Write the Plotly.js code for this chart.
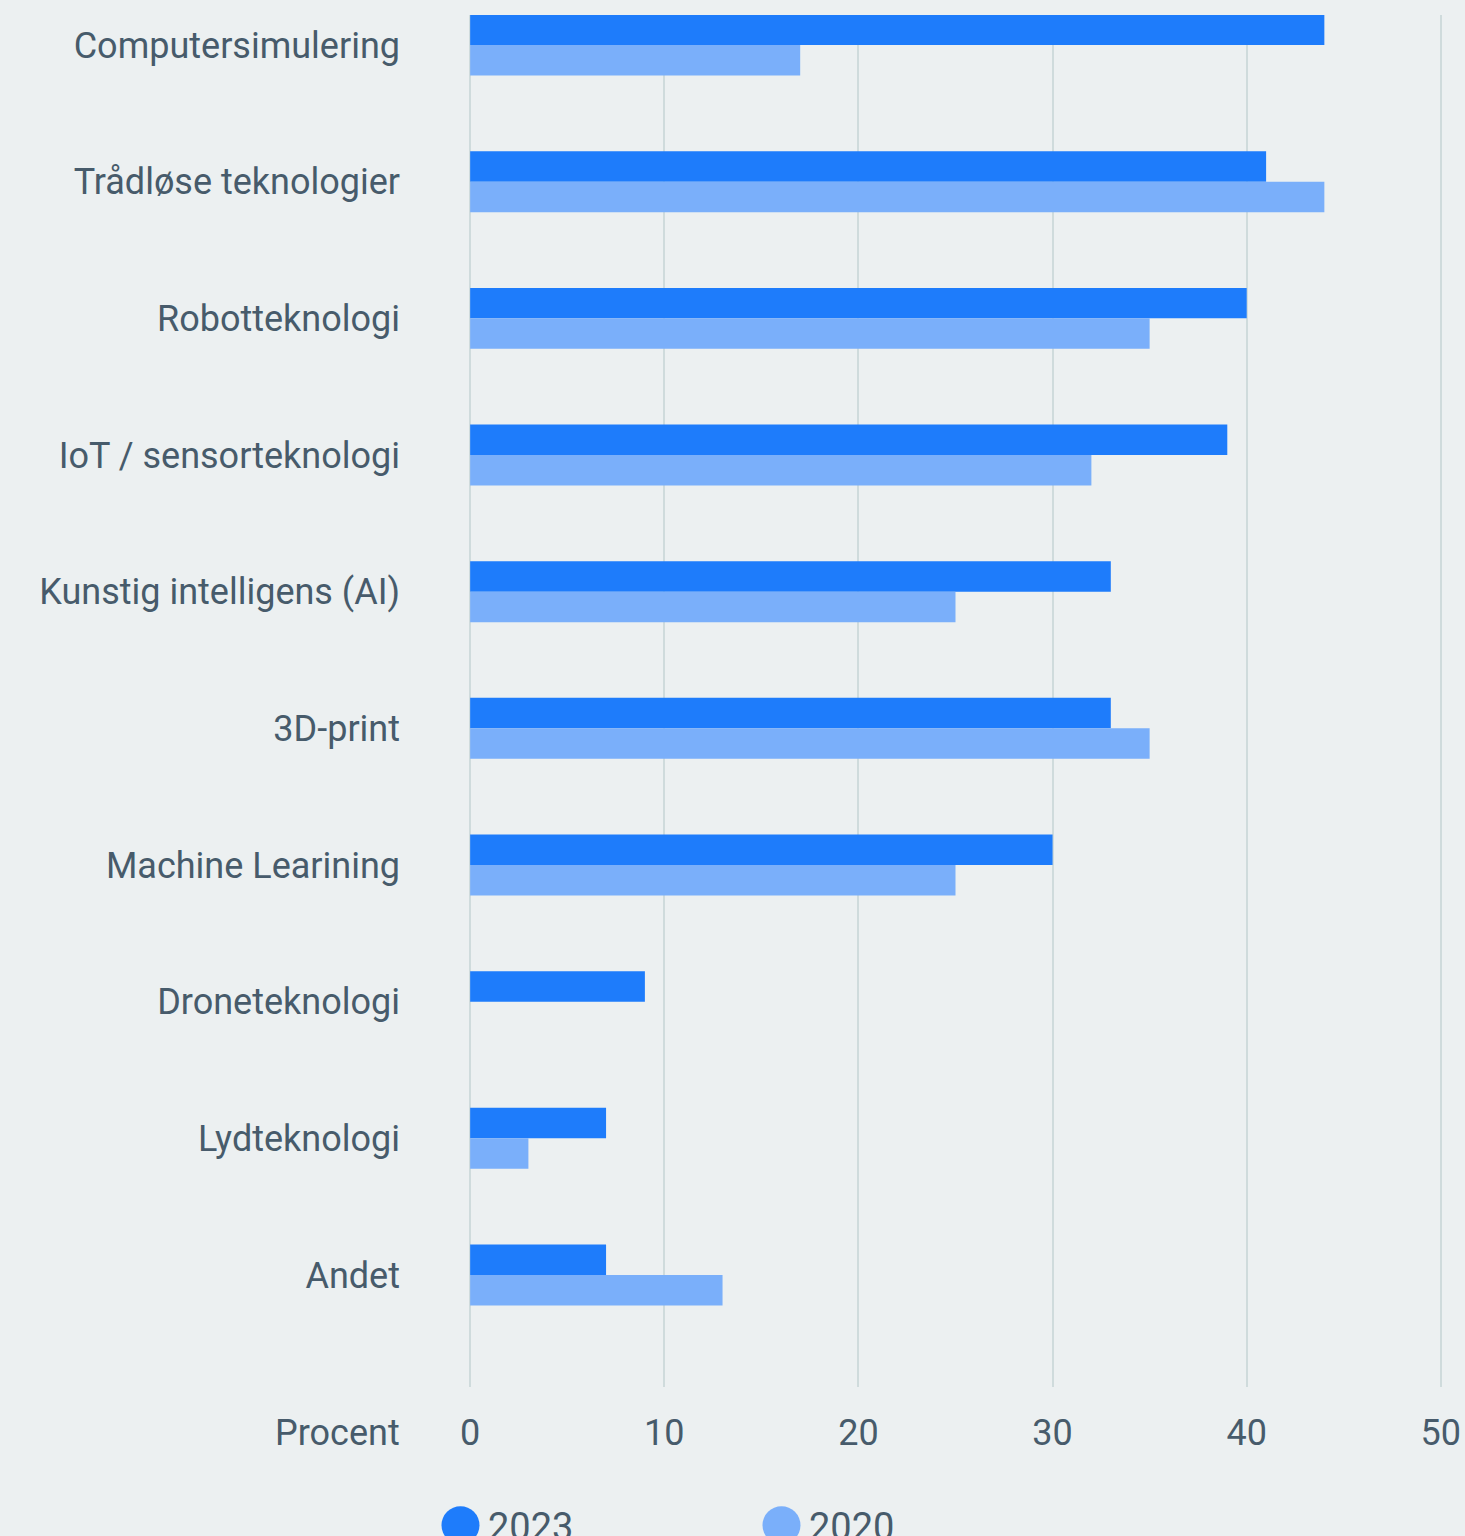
<!DOCTYPE html>
<html>
<head>
<meta charset="utf-8">
<script src="https://cdn.plot.ly/plotly-3.0.1.min.js"></script>
<style>
html,body{margin:0;padding:0;background:#ecf0f1;}
#chart{width:1465px;height:1536px;}
</style>
</head>
<body>
<div id="chart"></div>
<script>
const categories = [
  "Computersimulering",
  "Trådløse teknologier",
  "Robotteknologi",
  "IoT / sensorteknologi",
  "Kunstig intelligens (AI)",
  "3D-print",
  "Machine Learining",
  "Droneteknologi",
  "Lydteknologi",
  "Andet"
];
const values2023 = [44, 41, 40, 39, 33, 33, 30, 9, 7, 7];
const values2020 = [17, 44, 35, 32, 25, 35, 25, null, 3, 13];
const seriesNames = ["2023", "2020"];
const xTicks = [0, 10, 20, 30, 40, 50];
const axisLabel = "Procent";

const colors = ["#1e7cfb", "#7aaffa"];
const textColor = "#475b6b";
const fontFamily = "Roboto, 'Noto Sans', sans-serif";

const traces = [
  {type: "bar", orientation: "h", y: categories, x: values2023, name: seriesNames[0],
   marker: {color: colors[0]}, showlegend: false, hoverinfo: "x+y"},
  {type: "bar", orientation: "h", y: categories, x: values2020, name: seriesNames[1],
   marker: {color: colors[1]}, showlegend: false, hoverinfo: "x+y"},
  {type: "scatter", mode: "markers", x: [null], y: [null], name: seriesNames[0],
   marker: {color: colors[0], size: 16, symbol: "circle"}, showlegend: true},
  {type: "scatter", mode: "markers", x: [null], y: [null], name: seriesNames[1],
   marker: {color: colors[1], size: 16, symbol: "circle"}, showlegend: true}
];

const layout = {
  width: 1465, height: 1536,
  paper_bgcolor: "#ecf0f1", plot_bgcolor: "#ecf0f1",
  margin: {l: 469, r: 23, t: 15, b: 149, autoexpand: false},
  font: {family: fontFamily, size: 36, color: textColor},
  barmode: "group",
  bargap: 0.554,
  bargroupgap: 0,
  xaxis: {
    range: [-0.06, 50.06], tickvals: xTicks, ticktext: xTicks.map(String),
    showgrid: true, gridcolor: "#cfdbdc", gridwidth: 2,
    zeroline: false, showline: false, ticks: "",
    ticklabelstandoff: 21,
    tickfont: {family: fontFamily, size: 36, color: textColor},
    fixedrange: true
  },
  yaxis: {
    type: "category", categoryorder: "array", categoryarray: categories,
    range: [9.82, -0.22],
    showgrid: false, zeroline: false, showline: false, ticks: "",
    ticklabelstandoff: 68,
    tickfont: {family: fontFamily, size: 36, color: textColor},
    fixedrange: true
  },
  showlegend: true,
  legend: {
    orientation: "h", x: -0.037, xanchor: "left", y: -0.078, yanchor: "top",
    bgcolor: "rgba(0,0,0,0)", font: {family: fontFamily, size: 38, color: textColor},
    entrywidth: 261, entrywidthmode: "pixels", itemwidth: 45, traceorder: "normal"
  },
  annotations: [{
    text: axisLabel, xref: "paper", yref: "paper", x: 0, y: 0,
    xanchor: "right", yanchor: "middle", xshift: -67, yshift: -46, showarrow: false,
    font: {family: fontFamily, size: 36, color: textColor}
  }]
};

function bigLegendDots(gd) {
  const r = 19;
  gd.querySelectorAll(".legend .legendpoints path.scatterpts").forEach(p => {
    p.setAttribute("d", `M${r},0A${r},${r} 0 1,1 0,-${r}A${r},${r} 0 0,1 ${r},0Z`);
  });
}

Plotly.newPlot("chart", traces, layout, {displayModeBar: false, staticPlot: true}).then(gd => {
  bigLegendDots(gd);
  gd.on("plotly_afterplot", () => bigLegendDots(gd));
});
</script>
</body>
</html>
